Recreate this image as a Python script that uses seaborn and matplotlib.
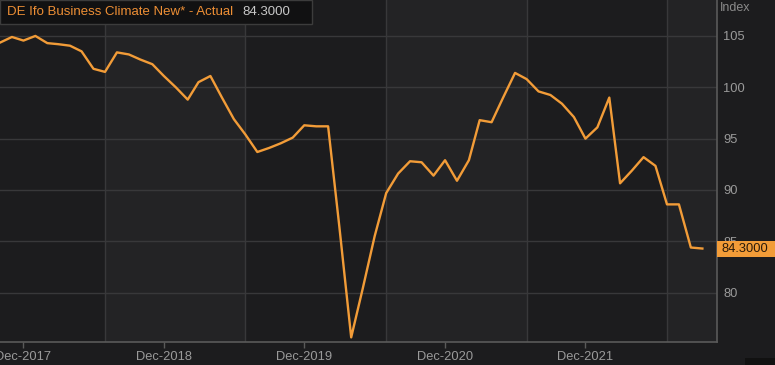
import matplotlib
matplotlib.use("Agg")
import matplotlib.pyplot as plt
import matplotlib.dates as mdates
import matplotlib.transforms as mtrans
from matplotlib.patches import Rectangle
import seaborn as sns
import pandas as pd
import numpy as np

# ---- data ----
start_month = "2017-10-01"
values = [
    104.35, 104.9, 104.55,                                                    # Oct-Dec 2017
    105.0, 104.3, 104.2, 104.05, 103.5, 101.8, 101.5, 103.4, 103.2, 102.7, 102.25, 101.1,  # 2018
    100.0, 98.8, 100.5, 101.1, 99.0, 96.9, 95.4, 93.7, 94.1, 94.55, 95.1, 96.3,            # 2019
    96.2, 96.2, 86.5, 75.65, 80.4, 85.5, 89.7, 91.6, 92.8, 92.7, 91.4, 92.9,               # 2020
    90.9, 92.9, 96.8, 96.6, 99.0, 101.4, 100.8, 99.6, 99.25, 98.4, 97.1, 95.0,             # 2021
    96.1, 99.0, 90.65, 91.9, 93.2, 92.35, 88.6, 88.6, 84.4, 84.3,                          # 2022
]
y_ticks = [80, 85, 90, 95, 100, 105]
x_tick_dates = ["2017-12-01", "2018-12-01", "2019-12-01", "2020-12-01", "2021-12-01"]
band_starts = ["2018-07-01", "2020-07-01", "2022-07-01"]
band_ends = ["2019-07-01", "2021-07-01", "2022-11-08"]
band_lines = ["2018-07-01", "2019-07-01", "2020-07-01", "2021-07-01", "2022-07-01"]
title_text = "DE Ifo Business Climate New* - Actual"
last_label = "84.3000"
unit_label = "Index"

dates = pd.date_range(start_month, periods=len(values), freq="MS")
df = pd.DataFrame({"date": dates, "value": values})

# ---- style ----
BG = "#1c1c1e"
BAND = "#232325"
GRID = "#38383a"
TXT = "#9a9a9a"
ORANGE = "#f29c38"

fig = plt.figure(figsize=(7.75, 3.65), dpi=100, facecolor=BG)
plt.rcParams["font.family"] = ["Liberation Sans", "DejaVu Sans"]

W, H = 775, 365
ax = fig.add_axes([0, 23 / H, 717 / W, 342 / H])
ax.set_facecolor(BG)

for s, e in zip(band_starts, band_ends):
    ax.axvspan(pd.Timestamp(s), pd.Timestamp(e), color=BAND, lw=0, zorder=0)
for d in band_lines:
    ax.axvline(pd.Timestamp(d), color=GRID, lw=1, zorder=1)
for t in y_ticks:
    ax.axhline(t, color=GRID, lw=1, zorder=1)

sns.lineplot(data=df, x="date", y="value", ax=ax, color=ORANGE, lw=1.7, zorder=3)

ax.set_xlim(pd.Timestamp("2017-10-01"), pd.Timestamp("2022-11-08"))
ax.set_ylim(75.2, 108.5)
ax.set_xlabel("")
ax.set_ylabel("")

ax.yaxis.tick_right()
ax.set_yticks(y_ticks)
ax.set_yticklabels([str(t) for t in y_ticks])
ax.tick_params(axis="y", length=0, pad=4.5, labelcolor=TXT, labelsize=9.3)

ax.set_xticks([pd.Timestamp(d) for d in x_tick_dates])
ax.xaxis.set_major_formatter(mdates.DateFormatter("%b-%Y"))
ax.tick_params(axis="x", length=4, width=1, color="#5a5a5a", pad=2.5,
               labelcolor=TXT, labelsize=9.3)

for side in ["left", "top"]:
    ax.spines[side].set_visible(False)
for side in ["bottom", "right"]:
    ax.spines[side].set_color("#5a5a5a")
    ax.spines[side].set_linewidth(1.2)

# last value label on right axis
trans = mtrans.blended_transform_factory(ax.transAxes, ax.transData)
ax.add_patch(Rectangle((1.0, values[-1]), 58 / 717, 1, transform=trans,
                       facecolor=ORANGE, edgecolor="none", clip_on=False, zorder=5))
ax.patches[-1].set_y(values[-1] - 0.78)
ax.patches[-1].set_height(1.56)
ax.text(1.0 + 5 / 717, values[-1], last_label, transform=trans, ha="left", va="center",
        color="#2a1a0a", fontsize=9.3, clip_on=False, zorder=6)

# unit label
fig.text(720 / W, 1 - 8 / H, unit_label, color="#8a8a8a", fontsize=9.0, ha="left", va="center")

# title box
fig.patches.append(Rectangle((0, 1 - 24 / H), 312 / W, 24 / H, transform=fig.transFigure,
                             facecolor="#111112", edgecolor="#3c3c3c", lw=1, zorder=10))
fig.text(7 / W, 1 - 12 / H, title_text, color="#ee8f35", fontsize=9.5, ha="left",
         va="center", zorder=11)
fig.text(242 / W, 1 - 12 / H, last_label, color="#c8c8c8", fontsize=9.5, ha="left",
         va="center", zorder=11)

# small dark box bottom right
fig.patches.append(Rectangle((745 / W, 0), 30 / W, 7 / H, transform=fig.transFigure,
                             facecolor="#111111", edgecolor="none", zorder=10))

fig.savefig("out.png", dpi=100, facecolor=BG)
